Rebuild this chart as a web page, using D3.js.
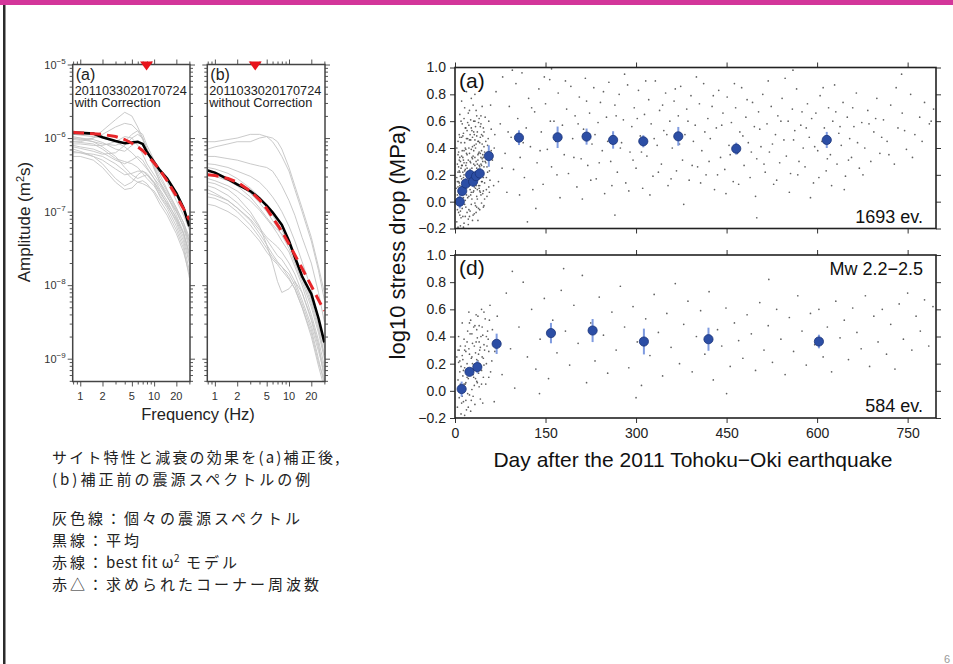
<!DOCTYPE html>
<html>
<head>
<meta charset="utf-8">
<script src="https://cdn.jsdelivr.net/npm/d3@7"></script>
<style>
  body { margin: 0; background: #fff; }
  svg { display: block; font-family: "Liberation Sans", Arial, sans-serif; }
  .jp { font-family: "Noto Sans CJK JP", sans-serif; }
</style>
</head>
<body>
<script>
// ---- Left figure: source spectra (values are log10 amplitude, m^2 s) ----
var freqs = [0.8, 1, 1.5, 2, 3, 4, 5, 6, 7, 8, 10, 12, 15, 20, 25, 30];
var freqTicks = [1, 2, 5, 10, 20];
var ampDecades = [-5, -6, -7, -8, -9];

var grayA = [
  [-6.00,-6.02,-6.05,-6.08,-6.10,-6.05,-5.95,-5.90,-5.95,-6.10,-6.30,-6.45,-6.60,-6.85,-7.05,-7.25],
  [-6.05,-6.05,-6.00,-5.90,-5.75,-5.65,-5.70,-5.85,-6.00,-6.15,-6.35,-6.50,-6.70,-6.95,-7.15,-7.40],
  [-6.10,-6.12,-6.15,-6.20,-6.30,-6.35,-6.30,-6.25,-6.30,-6.40,-6.55,-6.70,-6.85,-7.10,-7.30,-7.55],
  [-5.98,-6.00,-6.05,-6.12,-6.25,-6.40,-6.50,-6.55,-6.52,-6.50,-6.60,-6.72,-6.90,-7.15,-7.40,-7.70],
  [-6.15,-6.18,-6.25,-6.35,-6.55,-6.65,-6.60,-6.50,-6.45,-6.50,-6.62,-6.80,-6.95,-7.20,-7.45,-7.80],
  [-6.02,-6.03,-6.00,-5.95,-5.85,-5.80,-5.82,-5.90,-6.02,-6.15,-6.40,-6.60,-6.80,-7.00,-7.20,-7.45],
  [-6.20,-6.20,-6.22,-6.25,-6.35,-6.45,-6.55,-6.60,-6.62,-6.65,-6.72,-6.85,-7.00,-7.25,-7.50,-7.90],
  [-5.95,-5.96,-5.98,-6.00,-6.05,-6.12,-6.20,-6.28,-6.35,-6.42,-6.55,-6.65,-6.80,-7.00,-7.20,-7.40],
  [-6.08,-6.08,-6.10,-6.10,-6.05,-5.98,-6.00,-6.10,-6.22,-6.35,-6.50,-6.62,-6.78,-7.05,-7.28,-7.60],
  [-6.25,-6.25,-6.30,-6.40,-6.60,-6.70,-6.68,-6.60,-6.58,-6.62,-6.75,-6.90,-7.05,-7.30,-7.55,-7.85],
  [-6.00,-6.00,-6.02,-6.06,-6.15,-6.18,-6.10,-6.05,-6.10,-6.20,-6.38,-6.55,-6.72,-6.95,-7.15,-7.35],
  [-6.12,-6.14,-6.18,-6.22,-6.20,-6.10,-6.00,-5.95,-6.00,-6.15,-6.42,-6.60,-6.75,-6.98,-7.22,-7.50],
  [-6.05,-6.06,-6.08,-6.15,-6.28,-6.32,-6.35,-6.40,-6.48,-6.55,-6.65,-6.78,-6.92,-7.12,-7.35,-7.65],
  [-6.18,-6.20,-6.25,-6.30,-6.42,-6.50,-6.48,-6.45,-6.45,-6.48,-6.60,-6.75,-6.88,-7.08,-7.30,-7.58]
];
var meanA = [-5.93,-5.93,-5.94,-5.99,-6.04,-6.07,-6.06,-6.05,-6.08,-6.19,-6.33,-6.44,-6.55,-6.75,-6.95,-7.20];
var fitA  = [-5.92,-5.93,-5.94,-5.95,-5.98,-6.02,-6.07,-6.12,-6.17,-6.23,-6.34,-6.44,-6.58,-6.79,-6.96,-7.11];
var cornerA = 7.9;

var grayB = [
  [-6.05,-6.05,-6.02,-6.00,-5.95,-5.95,-5.98,-6.05,-6.15,-6.25,-6.45,-6.70,-7.00,-7.40,-7.80,-8.20],
  [-6.15,-6.12,-6.08,-6.05,-6.05,-6.00,-5.98,-6.00,-6.05,-6.15,-6.40,-6.65,-6.95,-7.35,-7.75,-8.10],
  [-6.55,-6.58,-6.65,-6.72,-6.85,-6.98,-7.10,-7.20,-7.30,-7.40,-7.55,-7.75,-8.00,-8.40,-8.75,-9.10],
  [-6.70,-6.75,-6.85,-6.95,-7.10,-7.25,-7.38,-7.50,-7.60,-7.65,-7.80,-7.95,-8.20,-8.55,-8.90,-9.20],
  [-6.60,-6.62,-6.70,-6.80,-7.00,-7.20,-7.45,-7.70,-7.95,-8.10,-8.05,-7.95,-8.10,-8.45,-8.80,-9.30],
  [-6.45,-6.48,-6.55,-6.62,-6.75,-6.88,-7.00,-7.12,-7.22,-7.32,-7.50,-7.70,-7.95,-8.30,-8.65,-9.00],
  [-6.80,-6.82,-6.90,-7.00,-7.18,-7.35,-7.50,-7.62,-7.70,-7.75,-7.85,-8.00,-8.25,-8.60,-9.00,-9.35],
  [-6.35,-6.36,-6.40,-6.45,-6.52,-6.60,-6.70,-6.80,-6.90,-7.00,-7.20,-7.40,-7.68,-8.05,-8.45,-8.85],
  [-6.90,-6.92,-7.00,-7.08,-7.25,-7.40,-7.55,-7.65,-7.72,-7.80,-7.92,-8.05,-8.30,-8.65,-9.05,-9.30],
  [-6.50,-6.52,-6.58,-6.65,-6.80,-6.95,-7.08,-7.18,-7.25,-7.30,-7.42,-7.58,-7.85,-8.20,-8.55,-8.95],
  [-6.25,-6.25,-6.28,-6.30,-6.35,-6.38,-6.40,-6.45,-6.55,-6.65,-6.85,-7.05,-7.35,-7.70,-8.10,-8.50],
  [-6.65,-6.68,-6.78,-6.88,-7.05,-7.22,-7.35,-7.42,-7.48,-7.55,-7.70,-7.85,-8.10,-8.48,-8.85,-9.15],
  [-6.40,-6.42,-6.48,-6.55,-6.68,-6.80,-6.92,-7.05,-7.15,-7.25,-7.45,-7.62,-7.90,-8.25,-8.60,-8.95],
  [-6.75,-6.78,-6.85,-6.95,-7.12,-7.30,-7.45,-7.58,-7.68,-7.75,-7.90,-8.05,-8.30,-8.70,-9.10,-9.40]
];
var meanB = [-6.44,-6.47,-6.56,-6.63,-6.72,-6.82,-6.92,-7.01,-7.10,-7.18,-7.40,-7.62,-7.88,-8.12,-8.45,-8.78];
var fitB  = [-6.50,-6.51,-6.55,-6.60,-6.72,-6.84,-6.96,-7.08,-7.18,-7.27,-7.44,-7.59,-7.77,-8.01,-8.20,-8.35];
var cornerB = 3.5;

// ---- Right figure: stress drop vs. day ----
var dayTicks = [0, 150, 300, 450, 600, 750];
var stressTicks = [-0.2, 0, 0.2, 0.4, 0.6, 0.8, 1.0];

var meanDayTop = [8, 12, 18, 25, 30, 35, 41, 56, 106, 170, 218, 262, 312, 370, 466, 616];
var meanValTop = [0.00, 0.08, 0.135, 0.20, 0.15, 0.19, 0.21, 0.34, 0.477, 0.48, 0.485, 0.46, 0.45, 0.487, 0.395, 0.46];
var meanErrTop = [0.05, 0.04, 0.04, 0.04, 0.04, 0.04, 0.04, 0.08, 0.055, 0.08, 0.06, 0.065, 0.045, 0.07, 0.045, 0.06];

var meanDayBot = [11, 24, 37, 69, 159, 228, 313, 420, 603];
var meanValBot = [0.013, 0.14, 0.175, 0.346, 0.425, 0.444, 0.363, 0.38, 0.363];
var meanErrBot = [0.055, 0.03, 0.045, 0.075, 0.075, 0.085, 0.095, 0.085, 0.05];

var eventsTop = [
  [3,-0.15],[4,0.05],[5,0.22],[6,-0.08],[7,0.31],[8,0.12],[9,-0.18],[10,0.44],[11,0.02],[12,0.27],
  [13,-0.11],[14,0.18],[15,0.38],[16,0.07],[17,0.55],[18,-0.04],[19,0.29],[20,0.14],[21,0.47],[22,-0.13],
  [23,0.21],[24,0.36],[25,0.09],[26,0.61],[27,-0.02],[28,0.25],[29,0.41],[30,0.16],[31,0.52],[32,-0.09],
  [33,0.33],[34,0.19],[35,0.68],[36,0.04],[37,0.28],[38,0.45],[39,0.12],[40,0.37],[41,-0.06],[42,0.24],
  [43,0.58],[44,0.15],[45,0.32],[46,0.49],[47,0.08],[48,0.26],[50,0.63],[52,0.18],[54,0.42],[56,0.11],
  [58,0.35],[60,0.54],[5,0.11],[7,-0.02],[9,0.19],[11,0.34],[13,0.06],[15,-0.16],[17,0.24],[19,0.47],
  [21,0.03],[23,0.57],[25,-0.07],[27,0.39],[29,0.13],[31,0.28],[33,-0.01],[35,0.43],[37,0.17],[39,0.59],
  [41,0.26],[43,0.05],[45,0.71],[47,0.33],[49,0.14],[6,0.37],[8,0.48],[10,-0.12],[12,0.09],[14,0.51],
  [16,0.23],[18,0.39],[20,-0.08],[22,0.31],[24,0.12],[26,0.46],[28,0.02],[30,0.34],[32,0.21],[34,0.56],
  [36,-0.04],[38,0.18],[40,0.62],[42,0.07],[44,0.38],[46,0.22],[48,-0.03],[4,0.28],[6,0.15],[8,-0.1],
  [10,0.25],[12,0.58],[14,0.03],[16,0.44],[18,0.16],[20,0.35],[22,0.66],[24,-0.11],[26,0.29],[28,0.53],
  [30,0.07],[32,0.42],[34,0.1],[36,0.25],[38,-0.14],[40,0.19],[42,0.48],[44,0.27],[46,0.06],[48,0.41],
  [51,0.29],[53,0.04],[55,0.47],[57,0.23],[59,0.72],[62,0.31],[64,0.12],[66,0.5],[11,0.75],[19,0.82],
  [27,0.77],[8,0.65],[33,0.8],[14,-0.19],[22,-0.17],[3,0.4],[5,-0.19],[29,-0.14],[37,0.02],[13,0.33],
  [17,0.01],[21,0.22],[25,0.5],[31,0.08],[35,0.3],[39,0.36],[43,0.2],[47,0.55],[9,0.3],[15,0.2],
  [19,0.1],[23,0.4],[27,0.15],[31,0.6],[35,0.12],[39,0.24],[43,0.33],[7,0.5],[11,0.17],[15,0.62],
  [23,0.04],[29,0.32],[33,0.46],[41,0.44],[45,0.15],[49,0.37],[53,0.26],[57,0.07],
  [2,0.1],[3,0.02],[4,-0.06],[5,0.35],[6,0.26],[7,0.14],[8,0.33],[9,0.07],[10,0.1],[11,0.48],
  [12,-0.05],[13,0.22],[14,0.31],[15,0.1],[16,-0.02],[17,0.4],[18,0.27],[19,0.05],[20,0.53],[21,0.13],
  [22,0.19],[23,-0.06],[24,0.46],[25,0.3],[26,0.05],[27,0.55],[28,0.14],[29,0.22],[30,-0.1],[31,0.38],
  [32,0.11],[33,0.6],[34,-0.03],[35,0.21],[36,0.49],[37,0.09],[38,0.31],[39,-0.05],[40,0.27],[41,0.12],
  [42,0.36],[43,0.64],[44,-0.01],[45,0.23],[46,0.35],[47,0.18],[48,0.52],[49,0.02],[50,0.3],[51,0.45],
  [52,0.09],[54,0.22],[56,0.6],[58,0.16],[60,0.38],[3,0.18],[5,0.45],[7,0.23],[9,-0.07],[11,0.27],
  [13,0.49],[15,0.29],[17,-0.11],[19,0.36],[21,0.59],[23,0.15],[25,0.24],[27,0.07],[29,0.48],[31,0.19],
  [33,0.27],[35,-0.08],[37,0.52],[39,0.45],[41,0.08],[43,0.28],[45,0.43],[47,-0.04],[10,0.6],[16,0.7],
  [24,0.68],[30,0.72],[36,0.64],[42,0.56],[12,0.38],[18,0.55],[26,0.2],[32,0.5],[38,0.35],[44,0.5],
  [4,0.15],[6,0.03],[8,0.22],[10,0.05],[14,0.12],[20,0.25],[28,0.33],[34,0.4],[40,0.1],[46,0.3],
  [68,0.82],[72,0.15],[75,0.58],[79,0.93],[83,0.36],[86,0.07],[90,0.71],[93,0.48],[97,0.24],[101,0.88],
  [104,0.62],[108,0.33],[111,0.96],[115,0.18],[118,0.55],[122,0.77],[125,0.41],[129,0.09],[132,0.67],[136,0.29],
  [139,0.84],[143,0.52],[146,0.13],[150,0.73],[153,0.39],[157,0.91],[160,0.26],[164,0.6],[167,0.45],[171,0.81],
  [174,0.03],[178,0.57],[181,0.35],[185,0.69],[188,0.21],[192,0.86],[195,0.47],[199,0.64],[202,0.11],[206,0.78],
  [209,0.32],[213,0.54],[216,0.92],[220,0.27],[223,0.66],[227,0.43],[230,0.85],[234,0.17],[237,0.59],[241,0.74],
  [244,0.38],[248,0.06],[251,0.63],[255,0.89],[258,0.3],[262,0.51],[265,0.72],[269,0.22],[272,0.8],[276,0.44],
  [279,0.61],[283,0.14],[286,0.87],[290,0.37],[293,0.56],[297,0.7],[300,0.25],[304,0.83],[307,0.49],[311,0.1],
  [314,0.65],[318,0.34],[321,0.76],[325,0.58],[328,0.19],[332,0.9],[335,0.42],[339,0.68],[342,0.28],[346,0.53],
  [349,0.81],[353,0.12],[356,0.6],[360,0.4],[363,0.75],[367,0.23],[370,0.64],[374,0.86],[377,0.31],[381,0.5],
  [384,0.69],[388,0.16],[391,0.79],[395,0.45],[398,0.57],[402,0.26],[405,0.73],[409,0.38],[412,0.88],[416,0.2],
  [419,0.62],[423,0.47],[426,0.71],[430,0.09],[433,0.55],[437,0.83],[440,0.33],[444,0.66],[447,0.24],[451,0.78],
  [454,0.42],[458,0.59],[461,0.15],[465,0.7],[468,0.36],[472,0.52],[475,0.85],[479,0.27],[482,0.63],[486,0.44],
  [489,0.18],[493,0.74],[496,0.56],[500,0.32],[503,0.67],[507,0.41],[510,0.8],[514,0.22],[517,0.58],[521,0.37],
  [524,0.71],[528,0.13],[531,0.5],[535,0.64],[538,0.29],[542,0.77],[545,0.46],[549,0.34],[552,0.6],[556,0.21],
  [559,0.69],[563,0.53],[566,0.84],[570,0.3],[573,0.57],[577,0.4],[580,0.26],[584,0.73],[587,0.48],[591,0.62],
  [594,0.14],[598,0.66],[601,0.38],[605,0.79],[608,0.45],[612,0.55],[615,0.23],[619,0.7],[622,0.35],[626,0.6],
  [629,0.87],[633,0.28],[636,0.51],[640,0.42],[643,0.74],[647,0.19],[650,0.63],[654,0.47],[657,0.33],[661,0.56],
  [665,0.81],[670,0.25],[674,0.59],[679,0.4],[684,0.68],[689,0.3],[694,0.52],[699,0.77],[704,0.36],[710,0.61],
  [716,0.45],[722,0.72],[728,0.28],[734,0.55],[741,0.66],[748,0.39],[755,0.8],[762,0.5],[770,0.63],[778,0.74],
  [786,0.58],[793,0.69],
  [65,0.4],[78,0.25],[88,0.52],[95,0.98],[107,0.05],[113,0.44],[127,0.7],[134,-0.05],[141,0.38],[148,0.93],
  [158,0.6],[169,0.2],[176,0.48],[183,0.9],[197,0.33],[204,0.58],[211,0.02],[218,0.75],[225,0.16],[232,0.5],
  [239,0.29],[246,0.82],[253,0.45],[260,0.12],[267,0.64],[274,0.4],[281,0.95],[288,0.08],[295,0.31],[302,0.62],
  [309,0.37],[316,0.9],[323,0.05],[330,0.47],[337,0.22],[344,0.72],[351,0.5],[358,0.17],[365,0.84],[372,0.43],
  [379,-0.02],[386,0.6],[393,0.27],[400,0.93],[407,0.14],[414,0.52],[421,0.3],[428,0.79],[435,0.2],[442,0.57],
  [449,0.06],[456,0.35],[463,0.88],[470,0.13],[477,0.49],[484,0.76],[491,0.37],[498,0.04],[505,0.54],[512,0.28],
  [519,0.9],[526,0.43],[533,0.16],[540,0.6],[547,0.92],[554,0.07],[561,0.46],[568,0.2],[575,0.67],[582,0.55],
  [589,0.03],[596,0.41],[603,0.18],[610,0.85],[617,0.32],[624,0.12],[631,0.67],[638,0.56],[645,0.09],[652,0.31],
  [659,0.7],[667,0.44],[676,0.2],[686,0.58],[697,0.62],[707,0.48],[719,0.35],[731,0.85],[745,0.53],[758,0.33],
  [774,0.45],[789,0.6],[120,-0.15],[265,-0.1],[500,-0.12],[160,0.99],[560,0.98],[740,0.95]
];

var eventsBot = [
  [4,-0.12],[5,0.08],[6,0.21],[7,-0.05],[8,0.14],[9,0.33],[10,-0.17],[11,0.02],[12,0.26],[13,0.11],
  [14,-0.08],[15,0.38],[16,0.17],[17,0.05],[18,0.29],[19,-0.14],[20,0.2],[21,0.44],[22,0.09],[23,0.31],
  [24,-0.03],[25,0.16],[26,0.52],[27,0.24],[28,0.01],[29,0.35],[30,0.12],[31,0.47],[32,0.19],[33,-0.1],
  [34,0.28],[35,0.56],[36,0.07],[37,0.39],[38,0.22],[39,0.13],[40,0.48],[41,0.3],[42,-0.06],[43,0.18],
  [44,0.6],[45,0.25],[46,0.41],[47,0.1],[48,0.34],[50,0.53],[52,0.2],[54,0.44],[56,0.29],[58,0.63],
  [6,0.4],[8,-0.01],[10,0.18],[12,0.5],[14,0.15],[16,-0.18],[18,0.06],[20,0.36],[22,-0.12],[24,0.27],
  [26,0.12],[28,0.42],[30,-0.04],[32,0.33],[34,0.09],[36,0.23],[38,0.55],[40,0.03],[42,0.32],[44,0.15],
  [46,-0.09],[48,0.19],[3,0.25],[7,0.3],[11,-0.09],[15,0.05],[19,0.15],[23,0.58],[27,-0.07],[31,0.1],
  [35,0.36],[39,0.27],[43,0.4],[47,0.24],[51,0.05],[55,0.38],[59,0.14],[62,0.45],[65,-0.08],[66,0.29],
  [5,0.3],[9,0.05],[13,0.23],[17,0.33],[21,-0.02],[25,0.42],[29,0.2],[33,0.48],[37,0.06],[41,0.2],
  [45,0.47],[49,0.3],[53,0.33],[57,0.52],[61,0.22],[8,0.22],[12,-0.04],[16,0.3],[20,0.1],[24,0.5],
  [28,0.25],[32,0.04],[36,0.45],[40,0.36],[44,0.05],[48,0.58],[52,0.4],[56,0.1],[18,-0.07],[26,-0.15],
  [70,0.55],[78,0.12],[85,0.72],[92,0.31],[99,0.02],[106,0.47],[113,0.8],[120,0.25],[127,0.6],[134,0.16],
  [141,0.38],[148,0.68],[155,0.09],[162,0.52],[169,0.28],[176,0.74],[183,0.44],[190,0.19],[197,0.63],[204,0.35],
  [211,0.85],[218,0.06],[225,0.5],[232,0.22],[239,0.69],[246,0.41],[253,0.13],[260,0.58],[267,0.3],[274,0.77],
  [281,0.47],[288,0.17],[295,0.62],[302,0.36],[309,0.04],[316,0.53],[323,0.26],[330,0.71],[337,0.43],[344,0.11],
  [351,0.57],[358,0.32],[365,0.79],[372,0.2],[379,0.49],[386,0.66],[393,0.14],[400,0.4],[407,0.59],[414,0.27],
  [421,0.73],[428,0.08],[435,0.45],[442,0.33],[449,0.61],[456,0.18],[463,0.5],[470,0.37],[477,0.24],[484,0.56],
  [491,0.42],[498,0.15],[505,0.65],[512,0.3],[519,0.48],[526,0.21],[533,0.6],[540,0.38],[547,0.12],[554,0.54],
  [561,0.29],[568,0.7],[575,0.44],[582,0.19],[589,0.57],[596,0.34],[603,0.6],[610,0.25],[617,0.47],[624,0.14],
  [631,0.66],[638,0.39],[645,0.52],[652,0.23],[659,0.61],[666,0.43],[673,0.31],[680,0.7],[687,0.18],[694,0.55],
  [701,0.36],[708,0.6],[715,0.27],[722,0.49],[729,0.16],[736,0.64],[743,0.38],[750,0.72],[757,0.3],[764,0.55],
  [771,0.44],[778,0.67],[785,0.33],[792,0.62],[95,0.88],[180,0.9],[300,-0.05],[140,-0.02],[450,-0.02],[520,0.82]
];

// Japanese caption lines
var captionLines = ["サイト特性と減衰の効果を(a)補正後,", "(b)補正前の震源スペクトルの例"];
var legendRows = [
  ["灰色線：個々の震源スペクトル"],
  ["黒線：平均"],
  ["赤線：", "best fit ω", "2", " モデル"],
  ["赤△：求められたコーナー周波数"]
];

// ---- SVG ----
var svgWidth = 953;
var svgHeight = 664;

var svg = d3.select("body")
  .append("svg")
  .attr("width", svgWidth)
  .attr("height", svgHeight);

// slide decoration
svg.append("rect").attr("x", 0).attr("y", 0).attr("width", svgWidth).attr("height", 5).attr("fill", "#d3369a");
svg.append("rect").attr("x", 3).attr("y", 5).attr("width", 2.5).attr("height", svgHeight - 5).attr("fill", "#2b2b2b");
svg.append("text").attr("x", 944).attr("y", 663).attr("font-size", 11).attr("fill", "#999").text("6");

// ===== Part 1: spectra panels =====
var spTop = 64.5, spBottom = 381.5;
var ampScale = d3.scaleLog().domain([Math.pow(10, -9.31), 1e-5]).range([spBottom, spTop]);

var minorAmp = [];
[-10, -9, -8, -7, -6].forEach(function (e) {
  for (var m = 2; m <= 9; m++) {
    var v = m * Math.pow(10, e);
    if (v >= ampScale.domain()[0] && v <= 1e-5) minorAmp.push(v);
  }
});
var majorAmp = ampDecades.map(function (e) { return Math.pow(10, e); });
var minorFreq = [0.8, 0.9, 3, 4, 6, 7, 8, 9, 30];

function styleAxis(sel, col) {
  sel.select("path.domain").remove();
  sel.selectAll("line").attr("stroke", col).attr("stroke-width", 1);
}

function drawSpectrum(id, x0, x1, gray, mean, fit, corner, tag, note, noteLen, showY) {
  var xs = d3.scaleLog().domain([0.79, 30.6]).range([x0, x1]);
  var line = d3.line()
    .x(function (d, i) { return xs(freqs[i]); })
    .y(function (d) { return ampScale(Math.pow(10, d)); });

  var g = svg.append("g");
  g.append("clipPath").attr("id", id)
    .append("rect").attr("x", x0).attr("y", spTop).attr("width", x1 - x0).attr("height", spBottom - spTop);

  var plot = g.append("g").attr("clip-path", "url(#" + id + ")");
  plot.selectAll(".gray").data(gray).enter().append("path")
    .attr("d", line).attr("fill", "none").attr("stroke", "#c4c4c4").attr("stroke-width", 0.9);
  plot.append("path").datum(mean).attr("d", line)
    .attr("fill", "none").attr("stroke", "#000").attr("stroke-width", 2.6);
  plot.append("path").datum(fit).attr("d", line)
    .attr("fill", "none").attr("stroke", "#e8262a").attr("stroke-width", 3)
    .attr("stroke-dasharray", "11,6");

  // axes: majors + minors on every side
  [[d3.axisLeft, x0, majorAmp, 5], [d3.axisLeft, x0, minorAmp, 3],
   [d3.axisRight, x1, majorAmp, 5], [d3.axisRight, x1, minorAmp, 3]].forEach(function (a) {
    g.append("g").attr("transform", "translate(" + a[1] + ",0)")
      .call(a[0](ampScale).tickValues(a[2]).tickSize(a[3]).tickFormat(""))
      .call(styleAxis, "#555");
  });
  [[d3.axisTop, spTop, freqTicks, 5], [d3.axisTop, spTop, minorFreq, 3],
   [d3.axisBottom, spBottom, freqTicks, 5], [d3.axisBottom, spBottom, minorFreq, 3]].forEach(function (a) {
    g.append("g").attr("transform", "translate(0," + a[1] + ")")
      .call(a[0](xs).tickValues(a[2]).tickSize(a[3]).tickFormat(""))
      .call(styleAxis, "#555");
  });

  g.append("rect").attr("x", x0).attr("y", spTop).attr("width", x1 - x0).attr("height", spBottom - spTop)
    .attr("fill", "none").attr("stroke", "#444").attr("stroke-width", 1.5);

  // x tick labels
  g.selectAll(".fl").data(freqTicks).enter().append("text")
    .attr("x", function (d) { return xs(d); }).attr("y", 400)
    .attr("text-anchor", "middle").attr("font-size", 11).attr("fill", "#333")
    .text(function (d) { return d; });

  if (showY) {
    g.selectAll(".al").data(ampDecades).enter().append("text")
      .attr("x", x0 - 7).attr("y", function (d) { return ampScale(Math.pow(10, d)) + 4; })
      .attr("text-anchor", "end").attr("font-size", 11).attr("fill", "#333")
      .each(function (d) {
        var t = d3.select(this);
        t.append("tspan").text("10");
        t.append("tspan").attr("dy", -5).attr("font-size", 8).text("\u2212" + (-d));
      });
  }

  // corner frequency marker
  var cx = xs(corner);
  g.append("path").attr("d", "M" + (cx - 6.5) + "," + (spTop - 3) + "L" + (cx + 6.5) + "," + (spTop - 3) + "L" + cx + "," + (spTop + 6) + "Z")
    .attr("fill", "#e8141c");

  g.append("text").attr("x", x0 + 3).attr("y", 79.5).attr("font-size", 16).attr("fill", "#222").text(tag);
  g.append("text").attr("x", x0 + 2).attr("y", 94.5).attr("font-size", 12).attr("fill", "#222")
    .attr("textLength", 112).attr("lengthAdjust", "spacingAndGlyphs").text("2011033020170724");
  g.append("text").attr("x", x0 + 2).attr("y", 107).attr("font-size", 12).attr("fill", "#222")
    .attr("textLength", noteLen).attr("lengthAdjust", "spacingAndGlyphs").text(note);
}

drawSpectrum("clipA", 72.7, 190, grayA, meanA, fitA, cornerA, "(a)", "with Correction", 86, true);
drawSpectrum("clipB", 207.3, 325, grayB, meanB, fitB, cornerB, "(b)", "without Correction", 103, false);

var ampTitle = svg.append("text").attr("transform", "translate(30,222) rotate(-90)")
  .attr("text-anchor", "middle").attr("font-size", 17).attr("fill", "#222");
ampTitle.append("tspan").text("Amplitude (m");
ampTitle.append("tspan").attr("dy", -6).attr("font-size", 11).text("2");
ampTitle.append("tspan").attr("dy", 6).text("s)");

svg.append("text").attr("x", 198).attr("y", 420).attr("text-anchor", "middle")
  .attr("font-size", 16.5).attr("fill", "#222").text("Frequency (Hz)");

// ===== Part 2: stress drop panels =====
var xDay = d3.scaleLinear().domain([0, 797]).range([455, 936]);

function drawStress(top, bottom, events, mDay, mVal, mErr, showX, tag, countText, rangeText) {
  var y = d3.scaleLinear().domain([-0.2, 1.0]).range([bottom, top]);
  var g = svg.append("g");

  g.selectAll(".ev").data(events).enter().append("circle")
    .attr("cx", function (d) { return xDay(d[0]); })
    .attr("cy", function (d) { return y(d[1]); })
    .attr("r", 0.85).attr("fill", "#3a3a3a").attr("opacity", 0.8);

  g.selectAll(".err").data(mDay).enter().append("line")
    .attr("x1", function (d) { return xDay(d); }).attr("x2", function (d) { return xDay(d); })
    .attr("y1", function (d, i) { return y(mVal[i] - mErr[i]); })
    .attr("y2", function (d, i) { return y(mVal[i] + mErr[i]); })
    .attr("stroke", "#7f9be0").attr("stroke-width", 2);

  g.selectAll(".mean").data(mDay).enter().append("circle")
    .attr("cx", function (d) { return xDay(d); })
    .attr("cy", function (d, i) { return y(mVal[i]); })
    .attr("r", 4.6).attr("fill", "#2c4ea5").attr("stroke", "#1b3479").attr("stroke-width", 0.8);

  g.append("g").attr("transform", "translate(455,0)")
    .call(d3.axisLeft(y).tickValues(stressTicks).tickSize(5).tickPadding(4).tickFormat(d3.format(".1f")))
    .call(styleAxis, "#333")
    .selectAll("text").attr("font-size", 14).attr("fill", "#222")
    .attr("font-family", "Liberation Sans, Arial, sans-serif");
  g.append("g").attr("transform", "translate(936,0)")
    .call(d3.axisRight(y).tickValues(stressTicks).tickSize(5).tickFormat(""))
    .call(styleAxis, "#333");
  g.append("g").attr("transform", "translate(0," + top + ")")
    .call(d3.axisTop(xDay).tickValues(dayTicks).tickSize(5).tickFormat(""))
    .call(styleAxis, "#333");
  var bx = g.append("g").attr("transform", "translate(0," + bottom + ")")
    .call(d3.axisBottom(xDay).tickValues(dayTicks).tickSize(5).tickPadding(5)
      .tickFormat(showX ? d3.format("d") : ""))
    .call(styleAxis, "#333");
  bx.selectAll("text").attr("font-size", 14).attr("fill", "#222")
    .attr("font-family", "Liberation Sans, Arial, sans-serif");

  g.append("rect").attr("x", 455).attr("y", top).attr("width", 936 - 455).attr("height", bottom - top)
    .attr("fill", "none").attr("stroke", "#222").attr("stroke-width", 1.6);

  g.append("text").attr("x", 459).attr("y", top + 20).attr("font-size", 21).attr("fill", "#111").text(tag);
  g.append("text").attr("x", 923).attr("y", bottom - 6).attr("text-anchor", "end")
    .attr("font-size", 18).attr("fill", "#111").text(countText);
  if (rangeText) {
    g.append("text").attr("x", 923).attr("y", top + 20).attr("text-anchor", "end")
      .attr("font-size", 18).attr("fill", "#111").text(rangeText);
  }
}

drawStress(67.5, 228.5, eventsTop, meanDayTop, meanValTop, meanErrTop, false, "(a)", "1693 ev.", null);
drawStress(255, 418, eventsBot, meanDayBot, meanValBot, meanErrBot, true, "(d)", "584 ev.", "Mw 2.2\u22122.5");

svg.append("text").attr("transform", "translate(405,242) rotate(-90)")
  .attr("text-anchor", "middle").attr("font-size", 22).attr("fill", "#111")
  .text("log10 stress drop (MPa)");
svg.append("text").attr("x", 693).attr("y", 467).attr("text-anchor", "middle")
  .attr("font-size", 21).attr("fill", "#111")
  .text("Day after the 2011 Tohoku\u2212Oki earthquake");

// ===== Part 3: caption =====
var cap = svg.append("g").attr("class", "jp").attr("fill", "#222")
  .attr("font-size", 15).attr("letter-spacing", 3);
cap.selectAll(".c1").data(captionLines).enter().append("text")
  .attr("x", 52).attr("y", function (d, i) { return 463 + i * 22; })
  .attr("letter-spacing", function (d, i) { return i === 0 ? 2.2 : 3; })
  .text(function (d) { return d; });

cap.selectAll(".c2").data(legendRows).enter().append("text")
  .attr("x", 52).attr("y", function (d, i) { return 524 + i * 22; })
  .each(function (d) {
    var t = d3.select(this);
    d.forEach(function (s, k) {
      var sp = t.append("tspan").text(s);
      if (d.length > 1 && k === 1) sp.attr("letter-spacing", 0.5);
      if (d.length > 1 && k === 2) sp.attr("dy", -6).attr("font-size", 10).attr("letter-spacing", 0);
      if (d.length > 1 && k === 3) sp.attr("dy", 6);
    });
  });
</script>
</body>
</html>
